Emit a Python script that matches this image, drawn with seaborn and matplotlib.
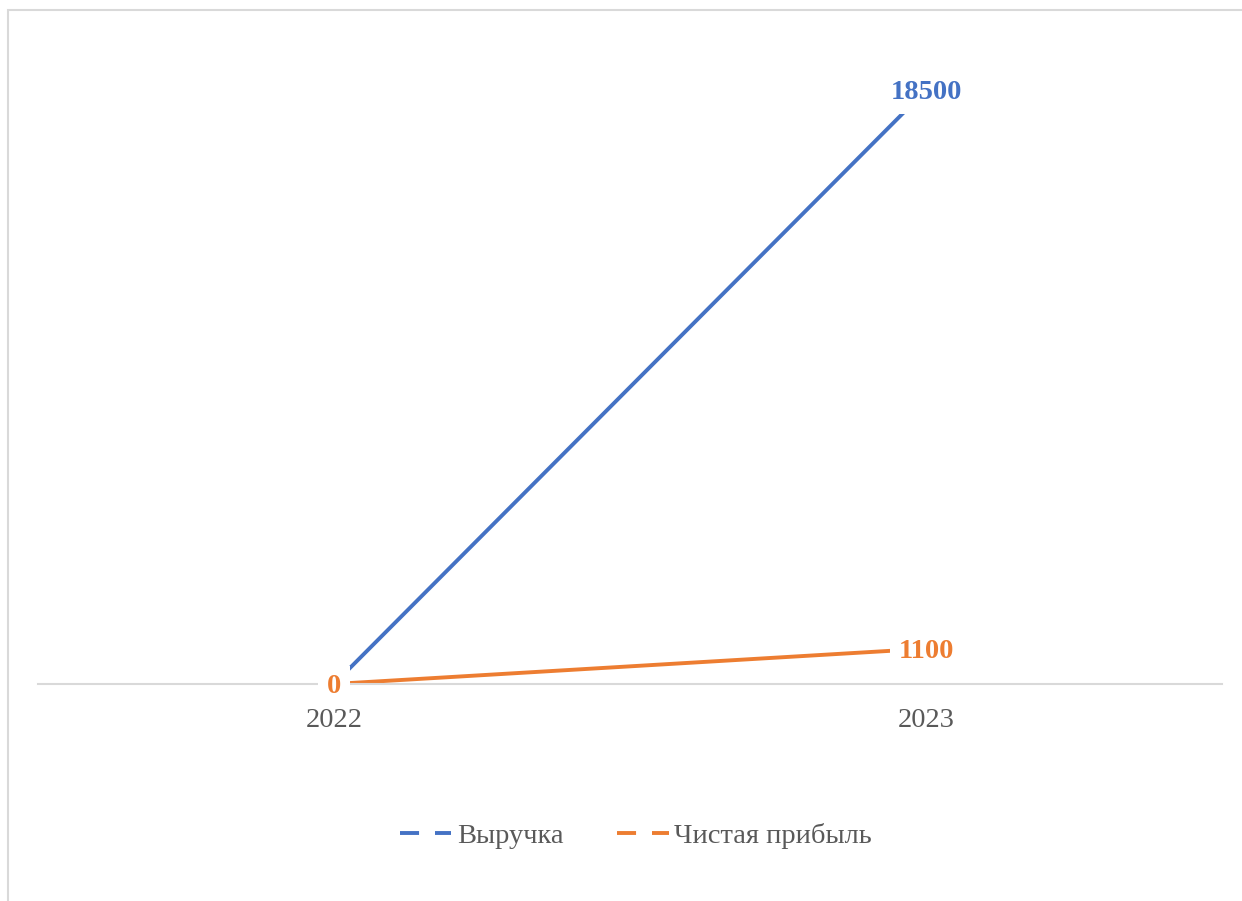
import pandas as pd
import matplotlib.pyplot as plt
import seaborn as sns
from matplotlib.lines import Line2D
from matplotlib.patches import Rectangle

# данные
years = ["2022", "2023"]
revenue = [0, 18500]
profit = [0, 1100]
series_names = ["Выручка", "Чистая прибыль"]
colors = {"Выручка": "#4472C4", "Чистая прибыль": "#ED7D31"}

df = pd.DataFrame({
    "year": years * 2,
    "value": revenue + profit,
    "series": [series_names[0]] * len(years) + [series_names[1]] * len(years),
})

sns.set_style("white")
plt.rcParams["font.family"] = ["Liberation Serif", "DejaVu Serif"]

fig = plt.figure(figsize=(12.42, 9.01), dpi=100)
ax = fig.add_axes([38 / 1242, 1 - 684 / 901, 1184 / 1242, (684 - 42) / 901])

sns.lineplot(data=df, x="year", y="value", hue="series", palette=colors,
             linewidth=2.8, legend=False, ax=ax, sort=False)

ax.set_xlim(-0.5, 1.5)
ax.set_ylim(0, 20000)

# подписи значений
for k, (name, vals) in enumerate(zip(series_names, [revenue, profit])):
    for i, v in enumerate(vals):
        ax.annotate(str(v), (i, v), xytext=(0, -2), textcoords="offset points",
                    ha="center", va="center", fontsize=20.5,
                    fontweight="bold", color=colors[name], zorder=5 + k,
                    bbox=dict(boxstyle="square,pad=0.3", fc="white", ec="none"))

for s in ["top", "right", "left"]:
    ax.spines[s].set_visible(False)
ax.spines["bottom"].set_color("#D9D9D9")
ax.spines["bottom"].set_linewidth(1.5)
ax.set_yticks([])
ax.tick_params(axis="x", length=0, pad=17, labelsize=20.5, labelcolor="#595959")
ax.xaxis.set_zorder(10)
ax.set_xlabel("")
ax.set_ylabel("")

# легенда
handles = [Line2D([0], [0], color=colors[n], lw=2.8, linestyle=(0, (4.9, 4.1)))
           for n in series_names]
fig.legend(handles, series_names, loc="center", ncol=2, frameon=False,
           bbox_to_anchor=(636 / 1242, 1 - 836 / 901), fontsize=20.5,
           labelcolor="#595959", handlelength=1.8, handletextpad=0.2,
           columnspacing=1.9)

# рамка области диаграммы
fig.patches.append(Rectangle((8 / 1242, -0.5), 2, 0.5 + (901 - 10) / 901,
                             transform=fig.transFigure, fill=False,
                             ec="#D9D9D9", lw=1.5))

fig.savefig("out.png", dpi=100)
